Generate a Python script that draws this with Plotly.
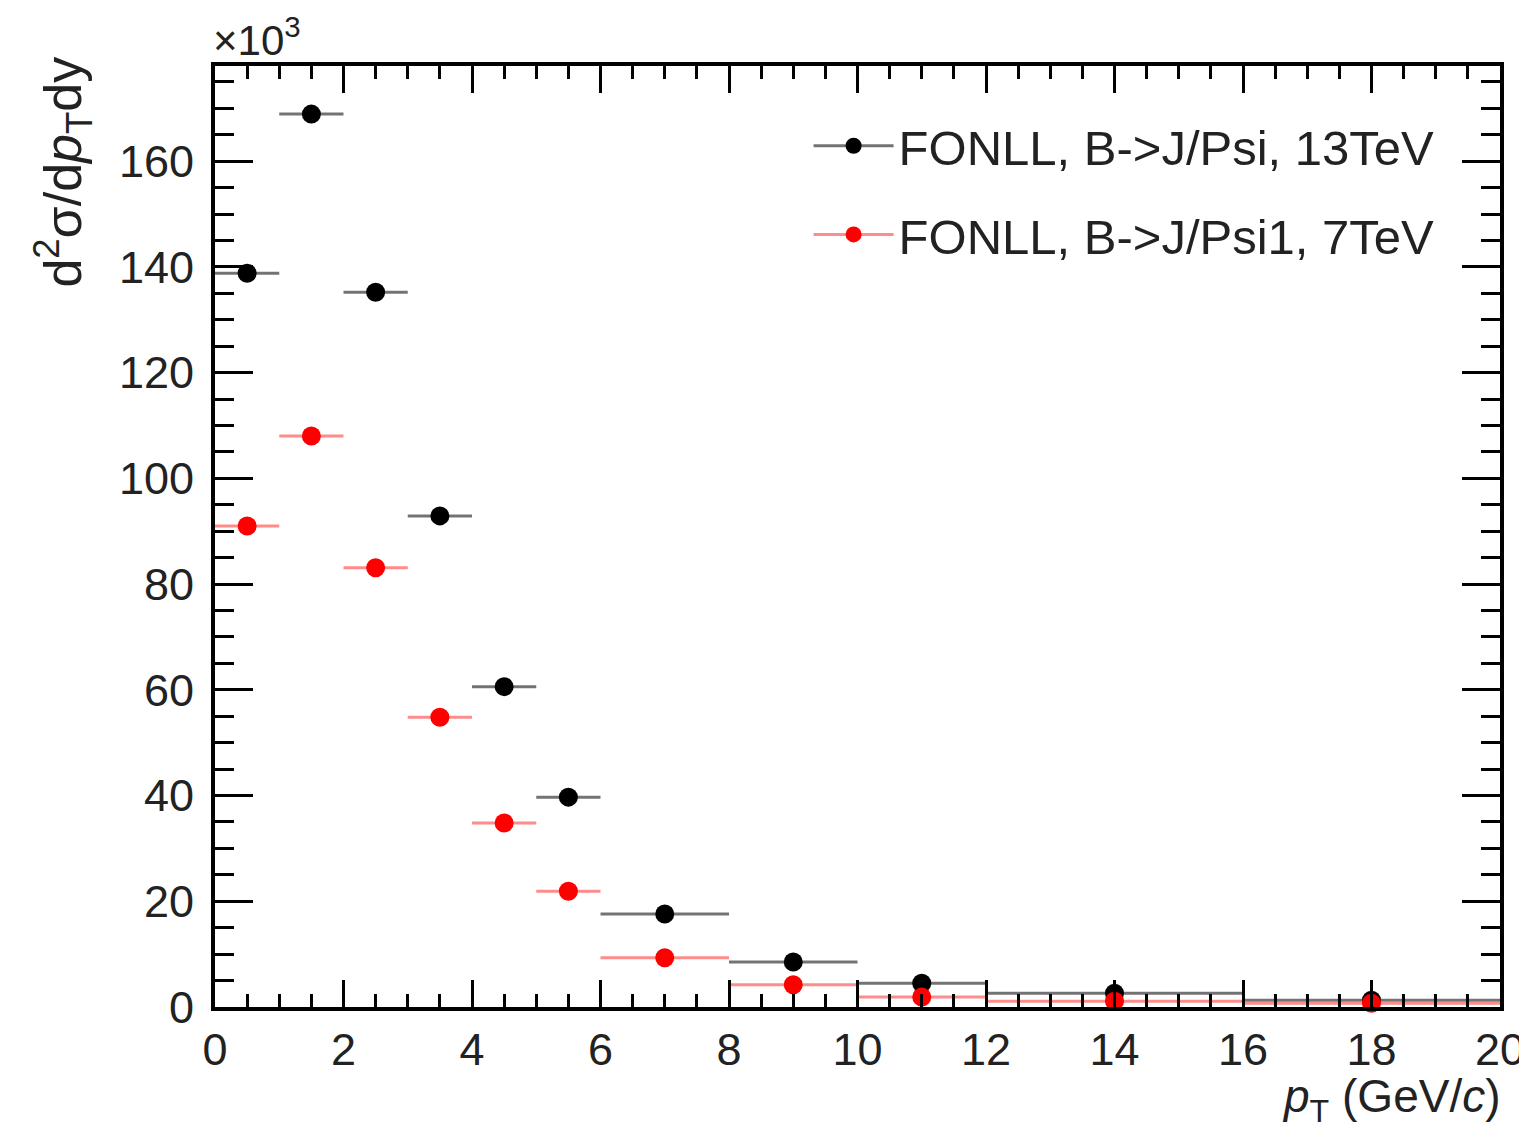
import plotly.graph_objects as go

# Data (units of 10^3)
bin_low  = [0, 1, 2, 3, 4, 5, 6, 8, 10, 12, 16]
bin_high = [1, 2, 3, 4, 5, 6, 8, 10, 12, 16, 20]
pt_center = [0.5, 1.5, 2.5, 3.5, 4.5, 5.5, 7, 9, 11, 14, 18]
xsec_13tev = [138.8, 168.9, 135.2, 92.9, 60.6, 39.7, 17.6, 8.5, 4.5, 2.6, 1.3]
xsec_7tev = [91.0, 108.0, 83.1, 54.8, 34.8, 21.9, 9.3, 4.2, 1.9, 1.1, 0.7]
name_13 = "FONLL, B->J/Psi, 13TeV"
name_7 = "FONLL, B->J/Psi1, 7TeV"
x_ticks = list(range(0, 21, 2))
y_ticks = list(range(0, 161, 20))

err_plus = [h - c for h, c in zip(bin_high, pt_center)]
err_minus = [c - l for c, l in zip(pt_center, bin_low)]

FONT = "Liberation Sans, Arial, Helvetica, sans-serif"

fig = go.Figure()
for yv, col, ecol, nm, grp in [
    (xsec_13tev, "black", "rgba(80,80,80,0.8)", name_13, "a"),
    (xsec_7tev, "#ff0000", "rgba(255,110,110,0.8)", name_7, "b"),
]:
    fig.add_trace(go.Scatter(
        x=pt_center, y=yv, mode="markers",
        marker=dict(color=col, size=19),
        error_x=dict(type="data", symmetric=False, array=err_plus,
                     arrayminus=err_minus, color=ecol, thickness=3, width=0),
        showlegend=False, cliponaxis=False,
    ))
    fig.add_trace(go.Scatter(
        x=[None], y=[None], mode="lines+markers", name=nm,
        marker=dict(color=col, size=19),
        line=dict(color=ecol, width=3),
        legendgroup=grp, showlegend=True,
    ))

axis_common = dict(
    showgrid=False, zeroline=False, showline=True, linecolor="black",
    linewidth=4, mirror="allticks", ticks="inside", tickcolor="black",
    tickwidth=3, automargin=False,
    tickfont=dict(family=FONT, size=45, color="#222"),
)

fig.update_xaxes(range=[0, 20], tickvals=x_ticks, ticklen=27,
                 minor=dict(dtick=0.5, ticks="inside", ticklen=13,
                            tickcolor="black", tickwidth=3),
                 **axis_common)
fig.update_yaxes(range=[0, 178], tickvals=y_ticks, ticklen=38,
                 ticklabelstandoff=8,
                 minor=dict(dtick=5, ticks="inside", ticklen=19,
                            tickcolor="black", tickwidth=3),
                 **axis_common)

fig.update_layout(
    width=1519, height=1130,
    margin=dict(l=207, r=27, t=58, b=131),
    paper_bgcolor="white", plot_bgcolor="white",
    showlegend=True,
    legend=dict(x=0.953, y=0.956, xanchor="right", yanchor="top",
                bgcolor="rgba(0,0,0,0)", traceorder="grouped",
                tracegroupgap=22, itemwidth=80,
                font=dict(family=FONT, size=49, color="#222")),
    annotations=[
        dict(text="×10<sup>3</sup>", xref="paper", yref="paper",
             x=-0.003, y=1.0, xanchor="left", yanchor="bottom", showarrow=False,
             font=dict(family=FONT, size=42, color="#222")),
        dict(text="d<sup>2</sup>σ/d<i>p</i><sub>T</sub>dy", xref="paper",
             yref="paper", x=-0.118, y=1.012, xanchor="center", yanchor="top",
             textangle=-90, showarrow=False,
             font=dict(family=FONT, size=52, color="#222")),
        dict(text="<i>p</i><sub>T</sub> (GeV/<i>c</i>)", xref="paper",
             yref="paper", x=1.002, y=-0.065, xanchor="right", yanchor="top",
             showarrow=False, font=dict(family=FONT, size=46, color="#222")),
    ],
)

fig.write_html("out.html")
